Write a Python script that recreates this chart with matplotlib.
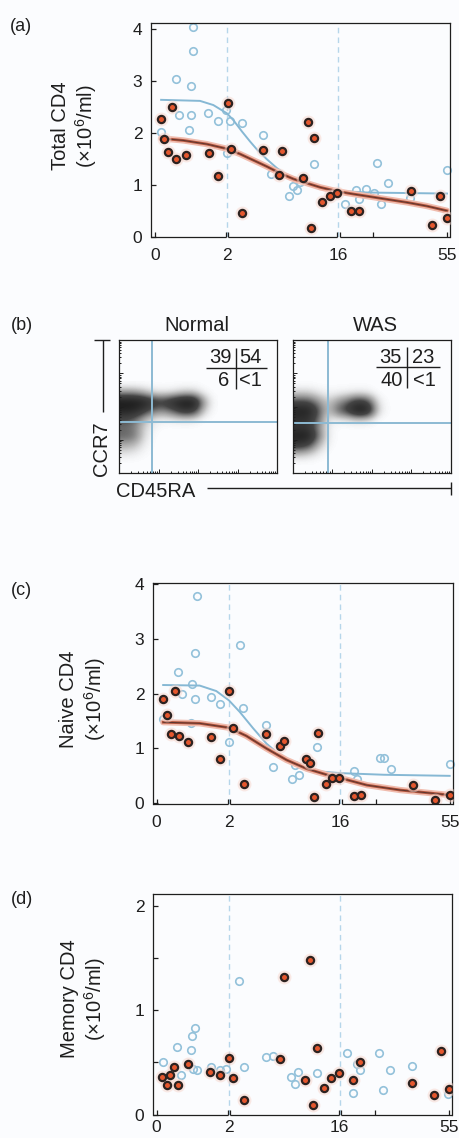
import numpy as np
import matplotlib
matplotlib.use('Agg')
import matplotlib.pyplot as plt
from matplotlib.colors import LinearSegmentedColormap
from matplotlib.lines import Line2D
import matplotlib.transforms as mtransforms

plt.rcParams['font.family'] = ['Liberation Sans', 'DejaVu Sans']
plt.rcParams['mathtext.fontset'] = 'custom'
plt.rcParams['mathtext.rm'] = 'Liberation Sans'
plt.rcParams['mathtext.it'] = 'Liberation Sans:italic'
plt.rcParams['mathtext.bf'] = 'Liberation Sans:bold'

# ---------------- data ----------------
x_ticks_age = [0, 2, 16, 55]
x_tick_labels = ['0', '2', '16', '55']
x_minor_age = [1.97, 2.16, 15.87, 16.57, 28.7]

# (a) Total CD4
total_was_age = [0.17, 0.26, 0.48, 0.37, 0.58, 0.86, 1.49, 1.75, 2.09, 2.47, 3.9, 6.6, 8.5, 8.96,
                 11.65, 12.16, 12.66, 13.0, 14.0, 15.0, 15.9, 20.8, 23.5, 42.1, 49.7, 52.4, 55.0]
total_was = [2.26, 1.88, 2.49, 1.62, 1.49, 1.58, 1.60, 1.16, 2.57, 1.69, 0.46, 1.67, 1.19, 1.65,
             1.12, 2.20, 0.17, 1.90, 0.67, 0.79, 0.85, 0.49, 0.50, 0.87, 0.22, 0.79, 0.37]
total_norm_age = [1.06, 1.06, 0.57, 0.99, 0.68, 1.01, 0.94, 0.17, 1.48, 1.75, 1.97, 2.38, 3.9, 2.0,
                  6.59, 7.53, 9.84, 10.3, 10.77, 11.23, 13.04, 18.5, 22.3, 23.5, 26.0, 28.9, 30.1,
                  31.4, 34.0, 41.9, 55.0]
total_norm = [4.02, 3.56, 3.03, 2.89, 2.34, 2.33, 2.05, 2.01, 2.37, 2.23, 2.44, 2.22, 2.18, 1.60,
              1.96, 1.21, 0.78, 0.97, 0.90, 1.06, 1.40, 0.63, 0.90, 0.72, 0.91, 0.85, 1.41,
              0.62, 1.03, 0.74, 1.28]
total_fit_norm_age = [0.17, 1.25, 1.62, 2.0, 2.8, 3.9, 4.91, 5.76, 7.02, 8.29, 9.55, 11.23, 13.34, 16, 26.4, 55]
total_fit_norm = [2.63, 2.61, 2.53, 2.37, 2.24, 2.02, 1.83, 1.68, 1.49, 1.32, 1.19, 1.08, 0.98, 0.88, 0.85, 0.83]
total_fit_was_age = [0.17, 0.79, 1.44, 2.0, 3.64, 5.33, 7.02, 8.70, 10.39, 12.07, 13.76, 16, 21.6, 26.4, 33.5, 40.7, 47.8, 55]
total_fit_was = [1.89, 1.85, 1.78, 1.69, 1.59, 1.47, 1.35, 1.22, 1.11, 1.03, 0.95, 0.87, 0.82, 0.78, 0.72, 0.66, 0.59, 0.50]

# (c) Naive CD4
naive_was_age = [0.17, 0.28, 0.40, 0.50, 0.61, 0.88, 1.50, 1.76, 2.0, 2.51, 3.9, 6.6, 8.45, 8.92,
                 11.7, 12.2, 12.66, 13.18, 14.15, 15.0, 15.87, 21.0, 23.5, 41.9, 49.65, 55.0]
naive_was = [1.91, 1.62, 1.26, 2.05, 1.23, 1.11, 1.21, 0.80, 2.05, 1.37, 0.35, 1.27, 1.05, 1.14,
             0.80, 0.73, 0.11, 1.28, 0.36, 0.46, 0.46, 0.13, 0.15, 0.33, 0.06, 0.15]
naive_norm_age = [1.13, 1.07, 0.60, 0.99, 0.70, 1.05, 1.50, 1.76, 0.17, 0.96, 2.0, 3.39, 3.81, 6.6,
                  7.57, 9.89, 10.86, 10.3, 13.1, 21.0, 22.1, 30.0, 31.6, 34.1, 55.0]
naive_norm = [3.79, 2.75, 2.39, 2.17, 1.99, 1.91, 1.94, 1.82, 1.54, 1.46, 1.12, 2.89, 1.74, 1.43,
              0.66, 0.44, 0.51, 0.70, 1.03, 0.58, 0.44, 0.83, 0.83, 0.63, 0.71]
naive_fit_norm_age = [0.18, 1.19, 1.65, 2.0, 3.35, 5.04, 6.72, 8.41, 10.1, 11.78, 13.47, 16, 31.5, 55]
naive_fit_norm = [2.16, 2.15, 2.05, 1.88, 1.67, 1.37, 1.09, 0.88, 0.73, 0.64, 0.58, 0.55, 0.52, 0.50]
naive_fit_was_age = [0.18, 1.19, 2.0, 4.19, 6.72, 9.25, 11.78, 14.3, 16, 25.5, 37.4, 55]
naive_fit_was = [1.48, 1.46, 1.38, 1.23, 1.00, 0.79, 0.63, 0.52, 0.46, 0.33, 0.24, 0.15]

# (d) Memory CD4
memory_was_age = [0.16, 0.28, 0.38, 0.47, 0.59, 0.87, 1.48, 1.76, 2.0, 2.51, 3.9, 8.5, 8.97, 11.67,
                  12.26, 12.6, 13.1, 14.0, 14.95, 15.9, 20.9, 23.4, 42.0, 49.6, 52.3, 55.0]
memory_was = [0.36, 0.28, 0.38, 0.46, 0.28, 0.49, 0.41, 0.38, 0.54, 0.35, 0.14, 0.53, 1.32, 0.33,
              1.48, 0.09, 0.64, 0.26, 0.35, 0.40, 0.33, 0.50, 0.30, 0.19, 0.61, 0.25]
memory_norm_age = [0.18, 0.57, 0.68, 0.95, 0.98, 1.07, 1.02, 1.12, 1.5, 1.76, 1.93, 3.35, 3.9, 6.67,
                   7.55, 9.91, 10.33, 10.8, 13.1, 18.5, 20.9, 22.1, 23.4, 30.0, 31.5, 34.0, 42.0, 54.8]
memory_norm = [0.50, 0.65, 0.38, 0.62, 0.75, 0.83, 0.44, 0.43, 0.46, 0.43, 0.44, 1.28, 0.46, 0.55,
               0.56, 0.36, 0.29, 0.41, 0.40, 0.59, 0.21, 0.49, 0.43, 0.59, 0.24, 0.43, 0.47, 0.20]

# (b) flow cytometry: event density (0..1) on a 0.25-decade grid,
# columns = CD45RA decades 0..2.5, rows = CCR7 decades 2.75 (top) .. 0.25 (bottom)
flow_normal_density = [
    [0.00, 0.00, 0.00, 0.00, 0.00, 0.00, 0.00, 0.00, 0.00, 0.00],
    [0.30, 0.30, 0.20, 0.08, 0.06, 0.08, 0.15, 0.15, 0.03, 0.00],
    [1.00, 1.00, 0.92, 0.65, 0.60, 0.80, 1.00, 1.00, 0.25, 0.00],
    [0.90, 0.85, 0.62, 0.35, 0.30, 0.45, 0.70, 0.65, 0.12, 0.00],
    [0.50, 0.42, 0.18, 0.05, 0.03, 0.04, 0.06, 0.05, 0.00, 0.00],
    [0.38, 0.34, 0.10, 0.02, 0.00, 0.00, 0.00, 0.00, 0.00, 0.00],
    [0.42, 0.38, 0.08, 0.00, 0.00, 0.00, 0.00, 0.00, 0.00, 0.00],
    [0.22, 0.18, 0.04, 0.00, 0.00, 0.00, 0.00, 0.00, 0.00, 0.00],
    [0.07, 0.05, 0.01, 0.00, 0.00, 0.00, 0.00, 0.00, 0.00, 0.00],
    [0.00, 0.00, 0.00, 0.00, 0.00, 0.00, 0.00, 0.00, 0.00, 0.00],
]
flow_was_density = [
    [0.00, 0.00, 0.00, 0.00, 0.00, 0.00, 0.00, 0.00, 0.00, 0.00],
    [0.12, 0.12, 0.06, 0.02, 0.03, 0.04, 0.06, 0.05, 0.00, 0.00],
    [0.50, 0.50, 0.30, 0.10, 0.25, 0.40, 0.65, 0.55, 0.06, 0.00],
    [0.90, 0.90, 0.50, 0.10, 0.40, 0.60, 1.00, 0.90, 0.10, 0.00],
    [0.75, 0.75, 0.40, 0.05, 0.04, 0.05, 0.10, 0.08, 0.00, 0.00],
    [0.65, 0.65, 0.30, 0.03, 0.00, 0.00, 0.00, 0.00, 0.00, 0.00],
    [0.95, 0.95, 0.40, 0.03, 0.00, 0.00, 0.00, 0.00, 0.00, 0.00],
    [0.70, 0.60, 0.20, 0.02, 0.00, 0.00, 0.00, 0.00, 0.00, 0.00],
    [0.20, 0.15, 0.05, 0.00, 0.00, 0.00, 0.00, 0.00, 0.00, 0.00],
    [0.00, 0.00, 0.00, 0.00, 0.00, 0.00, 0.00, 0.00, 0.00, 0.00],
]
flow_normal_gate = (0.835, 1.53)   # (CD45RA decade, CCR7 decade)
flow_was_gate = (0.886, 1.50)
flow_normal_pct = ['39', '54', '6', '<1']
flow_was_pct = ['35', '23', '40', '<1']

# ---------------- figure ----------------
W, H = 459, 1138
BG = '#fbfcfe'
fig = plt.figure(figsize=(W / 100, H / 100), dpi=100, facecolor=BG)
INK = '#1e1e1e'


def fx(px):
    return px / W


def fy(py):
    return 1 - py / H


def rect(l, r, t, b):
    return [l / W, 1 - b / H, (r - l) / W, (b - t) / H]


def fwd(x):
    x = np.asarray(x, float)
    return np.where(x < 2, x * 36.0,
                    np.where(x < 16, 72.0 + (x - 2) * (111.0 / 14.0), 183.0 + (x - 16) * 2.795))


def inv(u):
    u = np.asarray(u, float)
    return np.where(u < 72.0, u / 36.0,
                    np.where(u < 183.0, 2 + (u - 72.0) / (111.0 / 14.0), 16 + (u - 183.0) / 2.795))


def fline(x0, y0, x1, y1, lw=1.0, color=INK):
    fig.add_artist(Line2D([fx(x0), fx(x1)], [fy(y0), fy(y1)], transform=fig.transFigure,
                          color=color, lw=lw, solid_capstyle='butt'))


def age_panel(r, xlim, ylim, yticks, yminor, nx, ny, wx, wy, fit_n=None, fit_w=None, xpad=8):
    ax = fig.add_axes(r, facecolor=BG)
    ax.set_xscale('function', functions=(fwd, inv))
    ax.set_xlim(*xlim)
    ax.set_ylim(*ylim)
    for v in (2, 16):
        ax.axvline(v, color='#b6d6ea', lw=1.0, ls=(0, (4, 3)), zorder=1)
    ax.plot(nx, ny, 'o', ms=5.4, mfc='none', mec='#93c1da', mew=1.2, zorder=2, clip_on=False)
    if fit_n is not None:
        ax.plot(fit_n[0], fit_n[1], color='#86b8d4', lw=1.4, zorder=3)
    if fit_w is not None:
        ax.plot(fit_w[0], fit_w[1], color='#f0bcae', lw=4.5, zorder=3.5, solid_capstyle='round')
        ax.plot(fit_w[0], fit_w[1], color='#b5553c', lw=2.0, zorder=3.6)
        ax.plot(fit_w[0], fit_w[1], color='#5a3530', lw=0.7, zorder=3.7)
    ax.plot(wx, wy, 'o', ms=10, mfc='#f7d5cb', mec='none', alpha=0.5, zorder=4)
    ax.plot(wx, wy, 'o', ms=5.2, mfc='#e4572e', mec='#2d2220', mew=1.6, zorder=5)

    for s in ('left', 'right', 'top'):
        ax.spines[s].set_color(INK)
        ax.spines[s].set_linewidth(0.9)
    ax.spines['bottom'].set_visible(False)
    trans = mtransforms.blended_transform_factory(ax.transData, ax.transAxes)
    for a, b in [(xlim[0], 1.97), (2.16, 15.87), (16.57, xlim[1])]:
        ax.plot([a, b], [0, 0], color=INK, lw=0.9, transform=trans, clip_on=False, zorder=6,
                solid_capstyle='butt')

    ax.xaxis.remove_overlapping_locs = False
    ax.set_xticks(x_ticks_age)
    ax.set_xticklabels(x_tick_labels)
    ax.set_xticks([0, 55] + x_minor_age, minor=True)
    ax.set_yticks(yticks)
    ax.set_yticks(yminor, minor=True)
    ax.tick_params(axis='both', which='both', direction='in', color=INK, width=0.9,
                   labelsize=12.5, labelcolor=INK)
    ax.tick_params(axis='x', which='major', length=0, pad=xpad)
    ax.tick_params(axis='x', which='minor', length=3.5)
    ax.tick_params(axis='y', which='both', length=3.5, pad=6)
    return ax


# (a)
age_panel(rect(150.7, 450, 23.3, 237.3), (-0.12, 56.1), (-0.01, 4.1), [0, 1, 2, 3, 4], [],
          total_norm_age, total_norm, total_was_age, total_was,
          (total_fit_norm_age, total_fit_norm), (total_fit_was_age, total_fit_was))
fig.text(fx(10), fy(31.3), '(a)', fontsize=13, color=INK, ha='left', va='baseline')
fig.text(fx(75), fy(126), 'Total CD4\n(×10$^{6}$/ml)', fontsize=14.5, color=INK, rotation=90,
         ha='center', va='center', multialignment='center', linespacing=1.2)

# (c)
age_panel(rect(152.7, 453.3, 582.7, 804.3), (-0.11, 56.3), (-0.02, 4.03), [0, 1, 2, 3, 4], [],
          naive_norm_age, naive_norm, naive_was_age, naive_was,
          (naive_fit_norm_age, naive_fit_norm), (naive_fit_was_age, naive_fit_was))
fig.text(fx(11), fy(594.7), '(c)', fontsize=13, color=INK, ha='left', va='baseline')
fig.text(fx(83.5), fy(699), 'Naive CD4\n(×10$^{6}$/ml)', fontsize=14.5, color=INK, rotation=90,
         ha='center', va='center', multialignment='center', linespacing=1.2)

# (d)
age_panel(rect(152.7, 452.3, 894.3, 1114.7), (-0.11, 56.3), (0, 2.11), [0, 1, 2], [0.5, 1.5],
          memory_norm_age, memory_norm, memory_was_age, memory_was, xpad=3.5)
fig.text(fx(11), fy(904), '(d)', fontsize=13, color=INK, ha='left', va='baseline')
fig.text(fx(84), fy(999), 'Memory CD4\n(×10$^{6}$/ml)', fontsize=14.5, color=INK, rotation=90,
         ha='center', va='center', multialignment='center', linespacing=1.2)

# (b) flow plots
dens_cmap = LinearSegmentedColormap.from_list(
    'dens', [(0, BG), (0.15, '#bdbdbd'), (0.5, '#454545'), (1, '#1a1a1a')])
dec_major = [1, 2, 3]
dec_minor = [k + np.log10(m) for k in range(4) for m in range(2, 10)]


def flow_panel(r, dens, gate):
    ax = fig.add_axes(r, facecolor=BG)
    ax.imshow(np.array(dens), extent=[0, 2.5, 0.25, 2.75], origin='upper', cmap=dens_cmap,
              vmin=0, vmax=1, interpolation='bicubic', aspect='auto', zorder=1)
    ax.set_xlim(0, 4)
    ax.set_ylim(0, 4)
    ax.axvline(gate[0], color='#8dbad3', lw=1.4, zorder=2)
    ax.axhline(gate[1], color='#8dbad3', lw=1.4, zorder=2)
    for s in ax.spines.values():
        s.set_color(INK)
        s.set_linewidth(0.9)
    ax.set_xticks(dec_major)
    ax.set_yticks(dec_major)
    ax.set_xticks(dec_minor, minor=True)
    ax.set_yticks(dec_minor, minor=True)
    ax.tick_params(which='both', direction='in', color=INK, width=0.7,
                   labelbottom=False, labelleft=False)
    ax.tick_params(which='major', length=3)
    ax.tick_params(which='minor', length=1.5)
    return ax


flow_panel(rect(119.3, 277.3, 340, 473.3), flow_normal_density, flow_normal_gate)
flow_panel(rect(292.7, 450.7, 340, 473.3), flow_was_density, flow_was_gate)

fig.text(fx(11), fy(329.7), '(b)', fontsize=13, color=INK, ha='left', va='baseline')
fig.text(fx(196.7), fy(330.7), 'Normal', fontsize=14.5, color=INK, ha='center', va='baseline')
fig.text(fx(375), fy(330.7), 'WAS', fontsize=14.5, color=INK, ha='center', va='baseline')


def quad_numbers(vals, xr_left, xl_right, hline, vline, base1, base2):
    fig.text(fx(xr_left[0]), fy(base1), vals[0], fontsize=14.5, color=INK, ha='right', va='baseline')
    fig.text(fx(xl_right[0]), fy(base1), vals[1], fontsize=14.5, color=INK, ha='left', va='baseline')
    fig.text(fx(xr_left[1]), fy(base2), vals[2], fontsize=14.5, color=INK, ha='right', va='baseline')
    fig.text(fx(xl_right[1]), fy(base2), vals[3], fontsize=14.5, color=INK, ha='left', va='baseline')
    fline(hline[0], hline[2], hline[1], hline[2], lw=1.0)
    fline(vline[0], vline[1], vline[0], vline[2], lw=1.0)


quad_numbers(flow_normal_pct, (231.7, 229.3), (239.3, 239.3), (206, 267.3, 368.3),
             (235.7, 348.3, 389.3), 363.3, 386)
quad_numbers(flow_was_pct, (401.7, 402.7), (411.7, 413.3), (375.7, 440, 366.7),
             (406.7, 346.7, 388.3), 362.5, 386)

# axis indicators
fline(102.7, 340, 102.7, 411.7)
fline(94.3, 340, 110, 340)
fig.text(fx(102), fy(448.3), 'CCR7', fontsize=14.5, color=INK, rotation=90, ha='center', va='center')
fig.text(fx(115.7), fy(497.3), 'CD45RA', fontsize=14.5, color=INK, ha='left', va='baseline')
fline(206.7, 488.3, 450.7, 488.3)
fline(450.7, 481.7, 450.7, 495)

fig.savefig('out.png', dpi=100, facecolor=BG)
